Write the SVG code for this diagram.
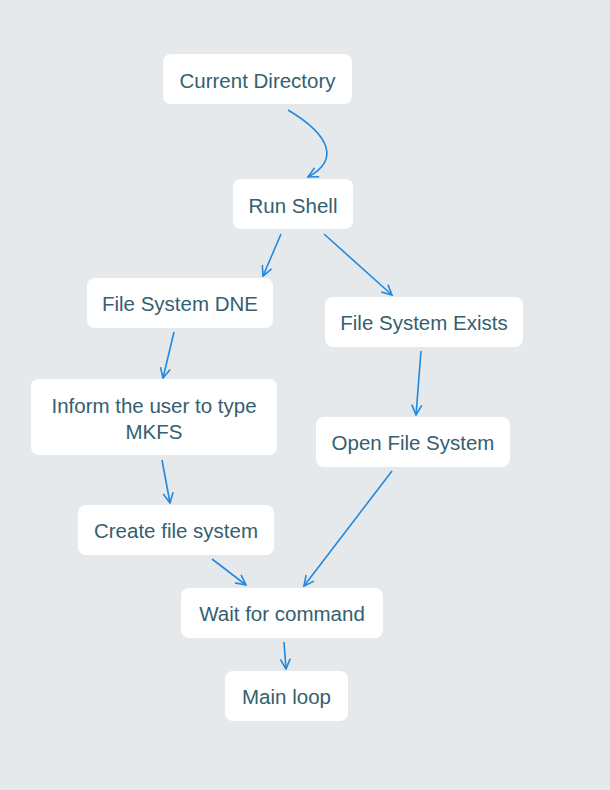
<svg xmlns="http://www.w3.org/2000/svg" width="610" height="790" viewBox="0 0 610 790">
<style>
.n rect{fill:#ffffff;}
.n text{font-family:"Liberation Sans",Arial,sans-serif;font-size:20.5px;fill:#34606f;text-anchor:middle;}
.c path{fill:none;stroke:#2288e0;stroke-width:1.6;marker-end:url(#a);}
</style>
<defs>
<marker id="a" viewBox="0 0 12 12" refX="11" refY="6" markerWidth="12" markerHeight="12" markerUnits="userSpaceOnUse" orient="auto">
<path d="M1,1 L11,6 L1,11" fill="none" stroke="#2288e0" stroke-width="1.6"/>
</marker>
</defs>
<rect width="610" height="790" fill="#e6e9ec"/>
<g class="c" id="connectors">
<path d="M288,110 C330,135 340,160 308,177"/>
<path d="M281,234 L263,276"/>
<path d="M324,234 L392,295"/>
<path d="M174,332 L163,378"/>
<path d="M421,351 L416,415"/>
<path d="M162,460 L170,503"/>
<path d="M212,559 L246,585"/>
<path d="M392,471 L304,586"/>
<path d="M284,642 L286,669"/>
</g>
<g class="n" id="n1"><rect x="163" y="54" width="189" height="50" rx="8"/><text x="257.5" y="88">Current Directory</text></g>
<g class="n" id="n2"><rect x="233" y="179" width="120" height="50" rx="8"/><text x="293" y="213">Run Shell</text></g>
<g class="n" id="n3"><rect x="87" y="278" width="186" height="50" rx="8"/><text x="180" y="311">File System DNE</text></g>
<g class="n" id="n4"><rect x="325" y="297" width="198" height="50" rx="8"/><text x="424" y="330">File System Exists</text></g>
<g class="n" id="n5"><rect x="31" y="379" width="246" height="76" rx="8"/><text x="154" y="413">Inform the user to type</text><text x="154" y="439">MKFS</text></g>
<g class="n" id="n6"><rect x="316" y="417" width="194" height="50" rx="8"/><text x="413" y="450">Open File System</text></g>
<g class="n" id="n7"><rect x="78" y="505" width="196" height="50" rx="8"/><text x="176" y="538">Create file system</text></g>
<g class="n" id="n8"><rect x="181" y="588" width="202" height="50" rx="8"/><text x="282" y="621">Wait for command</text></g>
<g class="n" id="n9"><rect x="225" y="671" width="123" height="50" rx="8"/><text x="286.5" y="704">Main loop</text></g>
</svg>
